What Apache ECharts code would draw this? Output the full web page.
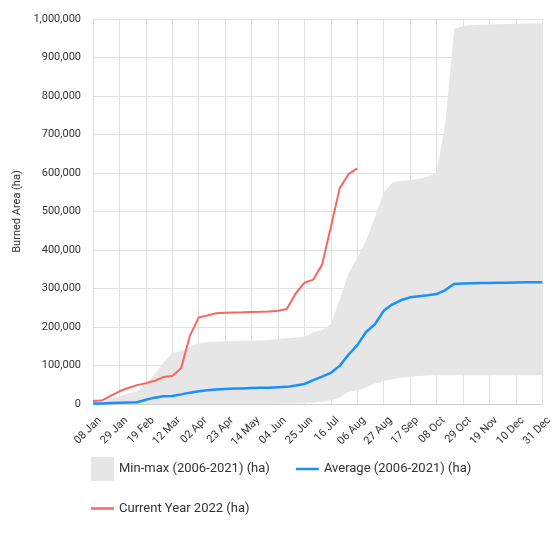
<!DOCTYPE html>
<html>
<head>
<meta charset="utf-8">
<script src="https://cdn.jsdelivr.net/npm/echarts@6/dist/echarts.min.js"></script>
<style>html,body{margin:0;padding:0;background:#fff;}#c{width:555px;height:534px;}</style>
</head>
<body>
<div id="c"></div>
<script>
var categories = ["08 Jan","15 Jan","22 Jan","29 Jan","05 Feb","12 Feb","19 Feb","26 Feb","05 Mar","12 Mar","19 Mar","26 Mar","02 Apr","09 Apr","16 Apr","23 Apr","30 Apr","07 May","14 May","21 May","28 May","04 Jun","11 Jun","18 Jun","25 Jun","02 Jul","09 Jul","16 Jul","23 Jul","30 Jul","06 Aug","13 Aug","20 Aug","27 Aug","03 Sep","10 Sep","17 Sep","24 Sep","01 Oct","08 Oct","15 Oct","22 Oct","29 Oct","05 Nov","12 Nov","19 Nov","26 Nov","03 Dec","10 Dec","17 Dec","24 Dec","31 Dec"];

var minValues = [0,0,0,0,0,0,0,0,0,0,0,0,0,0,0,0,0,0,0,0,0,500,1000,1500,2000,3000,6000,9000,17000,31000,36000,43000,53000,60000,64000,68000,71000,73000,74000,75000,75000,75000,75000,75000,75000,75000,75000,75000,75000,75000,75000,75000];

var maxValues = [2000,6000,14000,20000,27000,32000,52000,78000,108000,132000,138000,148000,158000,161000,162000,163000,163500,164000,164500,165000,166000,169000,171000,173000,175000,186000,192000,208000,270000,338000,380000,425000,485000,548000,576000,580000,582000,585000,590000,600000,730000,975000,982000,984000,985000,986000,986500,987000,987500,988000,988000,988000];

var averageValues = [1000,1500,2500,3500,4000,4500,11000,16500,20000,21000,25000,29500,33000,35500,37500,39000,40000,40500,41500,42000,42500,43500,44500,48000,52000,62000,71000,81000,99000,128000,153000,187000,207000,242000,259000,270000,277000,280000,282500,285500,296000,312000,313000,313500,314000,314500,315000,315000,315500,316000,316000,316500];

var currentValues = [8000,9000,21000,33000,41500,49000,54000,60500,70000,73000,93000,177000,225000,230000,236000,237000,237500,238000,239000,239500,240500,242000,247000,287000,315000,323000,362000,460000,560000,597000,612000];

var yTicks = {min: 0, max: 1000000, interval: 100000};

var bandDiff = maxValues.map(function(v, i){ return v - minValues[i]; });

var chart = echarts.init(document.getElementById('c'));
var font = 'Roboto';
chart.setOption({
  animation: false,
  textStyle: {fontFamily: font},
  grid: {left: 93, right: 12, top: 19, bottom: 130},
  legend: [{
    left: 86, top: 452, itemGap: 26, itemWidth: 23, itemHeight: 24,
    textStyle: {fontSize: 13, color: '#333', fontFamily: font},
    data: [
      {name: 'Min-max (2006-2021) (ha)', icon: 'rect'},
      {name: 'Average (2006-2021) (ha)', icon: 'path://M0,0 L22,0 L22,2.4 L0,2.4 Z'}
    ]
  }, {
    left: 86, top: 497, itemWidth: 23, itemHeight: 24,
    textStyle: {fontSize: 13, color: '#333', fontFamily: font},
    data: [
      {name: 'Current Year 2022 (ha)', icon: 'path://M0,0 L22,0 L22,2.4 L0,2.4 Z'}
    ]
  }],
  xAxis: {
    type: 'category',
    data: categories,
    boundaryGap: false,
    axisLine: {lineStyle: {color: '#cccccc'}},
    axisTick: {show: false},
    axisLabel: {interval: 2, rotate: 45, fontSize: 11, color: '#333', margin: 8,
      verticalAlign: 'top', padding: [4, 0, 0, 0]},
    splitLine: {show: true, interval: 2, lineStyle: {color: '#e0e0e0'}}
  },
  yAxis: {
    type: 'value',
    min: yTicks.min, max: yTicks.max, interval: yTicks.interval,
    name: 'Burned Area (ha)',
    nameLocation: 'middle',
    nameGap: 70,
    nameTextStyle: {fontSize: 11, color: '#333'},
    axisLine: {show: false},
    axisTick: {show: false},
    axisLabel: {fontSize: 11, color: '#333', margin: 12,
      formatter: function(v){ return v.toLocaleString('en-US'); }},
    splitLine: {lineStyle: {color: '#e0e0e0'}}
  },
  series: [{
    name: 'minBase', type: 'line', stack: 'band', data: minValues,
    symbol: 'none', lineStyle: {width: 0, opacity: 0}, silent: true
  }, {
    name: 'Min-max (2006-2021) (ha)', type: 'line', stack: 'band', data: bandDiff,
    symbol: 'none', lineStyle: {width: 0, opacity: 0},
    itemStyle: {color: '#e6e6e6'},
    areaStyle: {color: '#e6e6e6', opacity: 1}
  }, {
    name: 'Average (2006-2021) (ha)', type: 'line', data: averageValues,
    symbol: 'none', itemStyle: {color: '#1890ff'},
    lineStyle: {width: 2.5, color: '#1890ff'}
  }, {
    name: 'Current Year 2022 (ha)', type: 'line', data: currentValues,
    symbol: 'none', itemStyle: {color: '#f8665e'},
    lineStyle: {width: 2, color: '#f8665e'}
  }]
});
</script>
</body>
</html>
